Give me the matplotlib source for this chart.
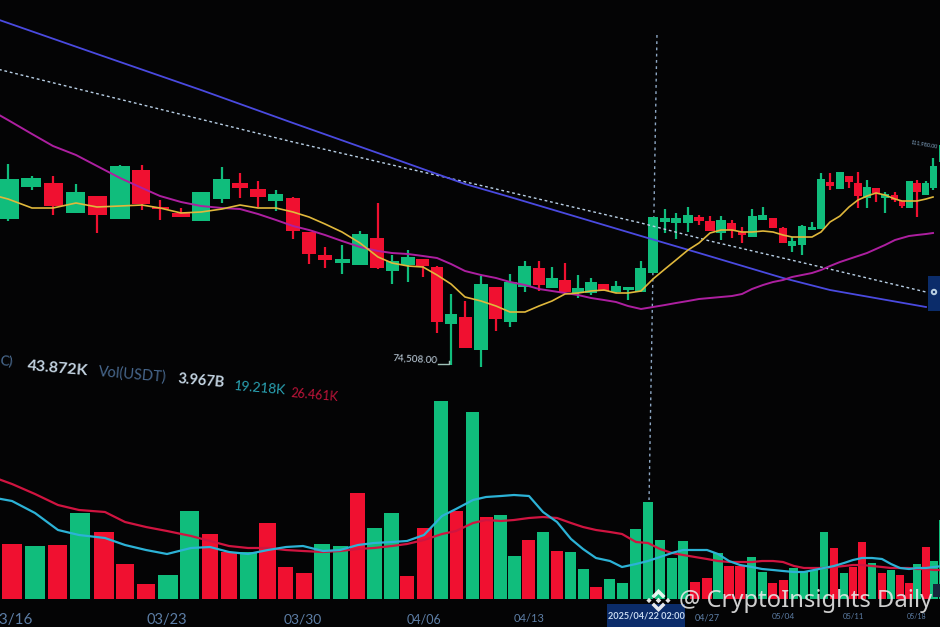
import numpy as np
import matplotlib
matplotlib.use("Agg")
import matplotlib.pyplot as plt
from matplotlib.patches import Polygon, Rectangle, Circle

# ---------- data: price in thousands of USDT ----------
candle_open = [107,103.2,109.6,110.4,104.4,107.8,103.2,113,105.6,104.4,
 102.8,107.2,110.4,109.2,106.8,107.4,100.6,96,94.4,94,
 99.4,92.8,94,95.2,93.6,82.2,83.6,77,89.6,82.6,
 89.6,93.4,89.4,91,88.4,88.4,90.2,88.6,89,88.6,
 92.4,102.6,102.4,102.4,103.6,102.8,100.4,102.4,100.6,99.6,
 103,103.4,101.4,97.8,98,101,101.2,110.6,109.2,111.8,
 110.4,107.4,109.4,107.4,108,106.8,105.4,110.4,108,109.4,114.6]
candle_close = [109,111.2,111.4,105.8,108.6,104,113.8,106.2,105.2,103.6,
 108.6,111.2,109.4,107.6,108.2,100.8,96.2,95,95.2,100.2,
 93.4,94.8,95.6,93.8,82.6,84.2,77.4,90.2,83.2,90.6,
 93.8,90,91.4,88.6,89.4,90.6,88.8,89.8,89.6,93.4,
 103.6,103.4,103.4,104,102.8,100.8,103,101,100,103.8,
 104,101.4,98.4,98.8,101.8,101.6,111.2,109.8,112.6,110.6,
 107.8,109.6,108.4,108.2,107,105.8,110.8,108.6,110.4,113.8,118]
candle_high = [109.4,114.2,111.8,111.8,110.2,107.8,114,114,107,105.4,
 108.6,113.6,112.4,110.8,109,107.6,100.6,97.6,98,100.8,
 106.4,96,97,95.2,93.8,88.2,86.8,91.8,89.6,92.2,
 94.8,94.8,93.6,94.4,92,91.4,90.2,90.8,89.6,94.8,
 103.6,105.2,104.4,105.6,104,103.8,103.8,103,101.6,105.2,
 105.6,103.4,101.6,99.6,102,102.6,112.4,112.4,112.6,111.8,
 112.6,111,109.4,108.6,108.6,106.8,110.8,111,110.8,115.4,119]
candle_low = [106.6,102.8,109,104,104.4,100.4,103.2,105,103,103.6,
 102.8,106.4,107.4,105.6,104.8,99.2,94.2,93.4,92.2,94,
 93.2,90.2,90.6,91.6,80.4,74,77.4,73.6,80.8,81.6,
 88.6,88.8,89.4,88.6,87.4,88,88.8,88.4,87,88.6,
 92.4,100.4,99.2,100.6,102,100.8,99,99.4,98.4,99.6,
 103,101.4,98.4,96.6,96,101,101.2,109,109.2,109.4,
 105.4,105.4,106.6,104.4,106.6,105.4,105.4,103.6,108,109,114]
ma_short = [108.4,107.2,105.4,105.4,106.4,105.6,105.8,106,105.4,104.4,
 104.6,105.2,106,105.4,105.4,104.6,103.6,102.2,100.6,98.4,
 95.6,94.4,93.8,93.6,92,90.2,87.6,86.8,85.8,84.6,
 84.6,85.8,86.8,88.2,88.4,88.8,89,88.4,88.4,88.8,
 91.2,93.2,95,97,98.4,100.4,101,101,100.6,100.6,
 100.8,100.6,100,99.6,99.6,99.6,100.6,102.6,103.8,105.6,
 107,107.8,108.4,108,107.2,106.8,106.8,106.8,107.2,107.6,np.nan]
ma_mid = [125.6,123,120.2,117.8,116,113.8,111.4,109.4,107.8,106.6,
 105.8,105.4,105.2,104.2,103,101.8,101,100,98.8,97.6,
 96.8,96.4,96.2,95.8,95.4,94.2,92.8,92,91.4,90.6,
 90,89.2,88.8,88.4,88,87.4,87,86.6,85.8,85.2,
 85.6,86,86.4,86.8,87.2,87.4,87.6,87.8,88.2,89.2,
 90,90.6,91,91.6,92,92.4,93,93.8,94.6,95.2,
 95.8,96.4,97.2,98,99,99.4,99.8,100,100.2,100.4,np.nan]
long_idx = [0,5,10,15,21,26,29,39,44,52,57,68]
ma_long = [144,136.2,129,122.4,115.4,110.2,107.6,99.8,96.4,91.4,89,85.6]
trend_idx = [0,15,28,39,45,56,68]
trend_val = [133.8,118.6,109.2,102.4,98.8,93.6,88.6]
cross_idx = [40.33,39.67]
cross_val = [140,47]

# volume, thousands of BTC
volume = [11,11,10.6,10.8,17.2,13.4,7,3,4.8,17.6,13,9.4,9.4,15.2,6.4,5.2,11,10.6,21.2,14.2,17.2,4.6,14.2,
 39.6,17.6,37.4,16.4,16.8,8.6,11.8,13.4,9.6,9.4,6,2.4,4,3.2,14,19.4,11.8,8.2,11.6,3.4,4.2,9.2,6.6,6.6,
 8.4,5.4,3.2,3.8,6.2,5.4,5.8,13.4,10.2,5.2,6.4,11.4,7.2,5.2,5.8,4.8,3.2,7,10.4,7.6,15.8]
vol_up = [0,0,1,0,1,0,0,0,1,1,0,0,1,0,0,0,1,1,0,1,1,0,0,
 1,0,1,0,1,1,0,1,0,1,1,0,1,1,1,1,1,1,1,0,0,1,0,0,
 1,1,0,0,1,1,1,1,0,1,0,0,1,0,1,0,0,1,0,1,1]
vol_ma_a = [24.6,23,21,18.8,17.8,17.4,15.4,14.4,13.6,12.6,11.6,10.6,10.2,10.2,9.8,9.6,9.4,9.6,10,10.2,10.6,11,11.8,
 13,13.6,15.2,15.8,15.6,15.8,16.2,16.4,16.2,15.2,14.4,13.8,13.4,13,11.4,11.2,10,9.2,8.8,8.4,8,7.6,7.4,7.4,
 7.4,7.6,7.6,7.4,6.6,6.2,6.2,6.2,6.4,6.6,6.8,6.8,6.6,6.4,6.2,6.2,6.2,6,6,5.8,5.8]
vol_ma_b = [20.4,19.6,17.2,13.8,12.8,12.2,10.8,9.8,9,10.2,10.4,9.4,9,9.8,10.4,10.6,9.6,9.8,10.8,11.2,11.4,11.6,12.8,
 16.6,18,19.8,20.4,20.6,20.8,20.6,17.4,15.4,12,10,8.2,7.6,6.4,7,7.6,8.4,9.2,9.8,9.8,9.8,9,7.6,6.8,
 6.4,6,5.8,5.6,5.4,5.4,5.8,6.2,6.6,7.2,7.8,8.2,8.2,8,7,6.2,6,6.2,6.2,6.4,6.6]
date_idx = [1,8,15,22,29,43,50,57,64]
date_labels = ["03/16","03/23","03/30","04/06","04/13","04/27","05/04","05/11","05/18"]

# ---------- camera perspective: slot number -> screen column ----------
candle_knots = [-15,8,32,53,76,97,120,142,160,181,201,222,240,258,276,293,309,325,342,360,378,392,408,423,437,451,
 465,481,496,510,525,539,552,565,578,591,604,616,628,641,653,665,676,688,699,710,721,732,742,752,763,773,783,792,
 802,812,821,830,840,849,858,867,876,885,895,902,909,917,926,933,943]
vol_knots = [-10,12,35,58,79,105,125,146,167,191,210,229,248,268,286,303,323,340,358,374,392,407,424,442,456,473,
 486,501,514,529,543,557,571,583,596,610,622,636,648,660,672,683,695,707,718,729,740,752,762,773,783,794,804,814,
 824,834,844,853,862,872,882,891,900,909,917,926,934,943]

def perspective(knots):
    k = np.asarray(knots, float)
    i = np.arange(len(k), dtype=float)
    i2 = np.r_[-100, i, len(k) + 100]
    k2 = np.r_[k[0] - 100 * 25, k, k[-1] + 100 * 9]
    return (lambda v: np.interp(v, i2, k2)), (lambda v: np.interp(v, k2, i2))

BG = "#040405"
GREEN = "#10bd7c"
RED = "#f01030"
fig = plt.figure(figsize=(9.4, 6.27), dpi=100, facecolor=BG)

# ---------- price panel ----------
ax = fig.add_axes([0, 0, 1, 1], facecolor=BG)
fwd, inv = perspective(candle_knots)
ax.set_xscale("function", functions=(fwd, inv))
ax.set_xlim(float(inv(0.0)), float(inv(940.0)))
ax.set_ylim(21.6, 147)
ax.axis("off")
idx = np.arange(len(candle_open))
o, c, h, l = map(np.array, (candle_open, candle_close, candle_high, candle_low))
col = [GREEN if b >= a else RED for a, b in zip(o, c)]
ax.vlines(idx, l, h, colors=col, lw=1.6, zorder=2)
ax.bar(idx, np.abs(c - o), bottom=np.minimum(o, c), width=0.88, color=col, linewidth=0, zorder=3)
ax.plot(trend_idx, trend_val, color="#b9d0e6", lw=1.0, ls=(0, (2, 2)), zorder=4)
ax.plot(long_idx, ma_long, color="#4a4ae0", lw=1.3, zorder=4)
ax.plot(idx, ma_mid, color="#ad1fa0", lw=1.4, zorder=4)
ax.plot(idx, ma_short, color="#e0b83c", lw=1.2, zorder=5)
ax.plot(cross_idx, cross_val, color="#8fa9c6", lw=1.0, ls=(0, (2, 2.5)), zorder=1)

# ---------- volume panel ----------
axv = fig.add_axes([0, 16 / 627, 1, 611 / 627], facecolor="none")
fwdv, invv = perspective(vol_knots)
axv.set_xscale("function", functions=(fwdv, invv))
axv.set_xlim(float(invv(0.0)), float(invv(940.0)))
axv.set_ylim(-2.4, 119.8)
vidx = np.arange(len(volume))
axv.bar(vidx, volume, width=0.88, color=[GREEN if u else RED for u in vol_up], linewidth=0, zorder=2)
axv.plot(vidx, vol_ma_a, color="#d01440", lw=1.6, zorder=3)
axv.plot(vidx, vol_ma_b, color="#2cb2d6", lw=1.6, zorder=4)
for s in axv.spines.values():
    s.set_visible(False)
axv.set_yticks([])
axv.set_xticks(date_idx)
axv.set_xticklabels(date_labels, family="Lato", color="#5d7ea6")
axv.minorticks_off()
axv.tick_params(axis="x", which="both", length=0, pad=1.5)
for lab, fs in zip(axv.get_xticklabels(), [11, 10.5, 10, 9, 8, 6.5, 6, 5.5, 5]):
    lab.set_fontsize(fs)

# ---------- screen furniture, in screen pixels ----------
ov = fig.add_axes([0, 0, 1, 1], facecolor="none")
ov.set_xlim(0, 940)
ov.set_ylim(627, 0)
ov.axis("off")

def rowtext(x, y, s, color, size, weight="normal", rot=-5):
    ov.text(x, y, s, color=color, fontsize=size, fontweight=weight, family="Lato",
            rotation=rot, rotation_mode="anchor", ha="left", va="center")

rowtext(0, 361, "C)", "#4d6f96", 10)
rowtext(27, 366, "43.872K", "#c4d4e2", 11.5, "bold")
rowtext(99, 372, "Vol(USDT)", "#48688e", 10.5)
rowtext(178, 379, "3.967B", "#c4d4e2", 10.5, "bold")
rowtext(234, 386, "19.218K", "#2aa3b4", 9.8)
rowtext(291, 393, "26.461K", "#c0143a", 9)
rowtext(393, 358, "74,508.00", "#c4d4e2", 7.2, rot=-3)
ov.plot([438, 449, 449], [364, 364, 361], color="#9fc2b8", lw=1.0)
rowtext(911, 142, "111,980.00", "#86a9c9", 3.9, rot=-10)

ov.add_patch(Rectangle((607, 604), 78, 23, facecolor="#0b2c6a", lw=0))
ov.text(646, 616, "2025/04/22 02:00", color="#c6d8ee", fontsize=6.6, family="Lato",
        fontweight="bold", ha="center", va="center")
ov.add_patch(Rectangle((928, 276), 12, 35, facecolor="#0b2c6a", lw=0))
ov.add_patch(Circle((934, 292), 3.2, facecolor="#b9cfe2", edgecolor="none"))
ov.add_patch(Circle((934, 292), 1.2, facecolor="#0b2c6a", edgecolor="none"))
ov.add_patch(Rectangle((933, 584), 7, 13, facecolor="#16263c", lw=0))

# watermark logo (Binance-style diamond) and handle
logo_cx, logo_cy = 658.5, 600.5
pieces = [
    [(0, -11.5), (7, -4.5), (4.5, -2), (0, -6.5), (-4.5, -2), (-7, -4.5)],
    [(0, 11.5), (7, 4.5), (4.5, 2), (0, 6.5), (-4.5, 2), (-7, 4.5)],
    [(-9.5, -2.6), (-6.9, 0), (-9.5, 2.6), (-12.1, 0)],
    [(9.5, -2.6), (12.1, 0), (9.5, 2.6), (6.9, 0)],
    [(0, -2.8), (2.8, 0), (0, 2.8), (-2.8, 0)],
]
for p in pieces:
    ov.add_patch(Polygon([(logo_cx + a, logo_cy + b) for a, b in p],
                         facecolor="#ffffff", alpha=0.9, lw=0, zorder=6))
ov.text(679, 601, "@ CryptoInsights Daily", color="#e6e6e6", alpha=0.9, fontsize=17.1,
        family="Noto Sans", ha="left", va="center", zorder=6)

fig.savefig("out.png", dpi=100, facecolor=BG)
